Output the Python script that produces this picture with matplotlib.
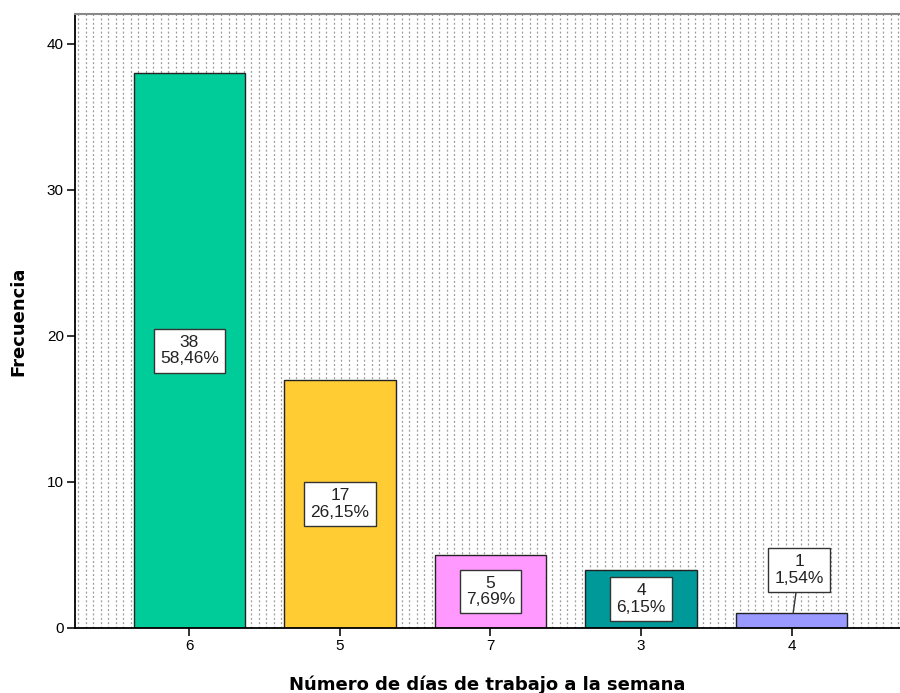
import numpy as np
import matplotlib.pyplot as plt

categorias = ['6', '5', '7', '3', '4']
frecuencias = [38, 17, 5, 4, 1]
porcentajes = ['58,46%', '26,15%', '7,69%', '6,15%', '1,54%']
colores = ['#00CC99', '#FFCC33', '#FF99FF', '#009999', '#9999FF']

fig = plt.figure(figsize=(9, 6.93), dpi=100)
ax = fig.add_axes([0.0833, 0.0938, 0.9167, 0.886])

x = np.arange(len(categorias))
ax.set_xlim(-0.76, 4.72)
ax.set_ylim(0, 42.05)

# fondo punteado
for xv in np.arange(-0.76 + 0.02, 4.72, 7.5 / 150):
    ax.axvline(xv, color='#999999', linestyle=(0, (1.5, 2.0)), linewidth=0.9, zorder=0)

ax.bar(x, frecuencias, width=0.74, color=colores, edgecolor='#222222', linewidth=1, zorder=2)

for i, (f, p) in enumerate(zip(frecuencias, porcentajes)):
    texto = f'{f}\n{p}'
    caja = dict(boxstyle='square,pad=0.35', facecolor='white', edgecolor='#333333', linewidth=1)
    if f >= 3:
        ax.text(x[i], f / 2, texto, ha='center', va='center', fontsize=12.5,
                family='Liberation Sans', color='#222222', bbox=caja, zorder=4, linespacing=1.15)
    else:
        ax.annotate(texto, xy=(x[i] + 0.01, f), xytext=(x[i] + 0.05, 3.97), ha='center', va='center',
                    fontsize=12.5, family='Liberation Sans', color='#222222', bbox=caja, zorder=4,
                    linespacing=1.15,
                    arrowprops=dict(arrowstyle='-', color='#333333', linewidth=1, shrinkA=0, shrinkB=0))

ax.set_xticks(x)
ax.set_xticklabels(categorias, family='Liberation Sans', fontsize=11)
ax.set_yticks([0, 10, 20, 30, 40])
ax.set_yticklabels(['0', '10', '20', '30', '40'], family='Liberation Sans', fontsize=11)
ax.tick_params(axis='both', length=6, width=1.3, color='#222222', pad=2)

ax.spines['right'].set_visible(False)
ax.spines['top'].set_color('#888888')
ax.spines['top'].set_linewidth(1.5)
ax.spines['left'].set_linewidth(1.3)
ax.spines['bottom'].set_linewidth(1.3)

ax.set_ylabel('Frecuencia', fontsize=13, fontweight='bold', family='DejaVu Sans', labelpad=14)
ax.set_xlabel('Número de días de trabajo a la semana', fontsize=13, fontweight='bold',
              family='DejaVu Sans', labelpad=16)

fig.savefig('out.png', dpi=100)
